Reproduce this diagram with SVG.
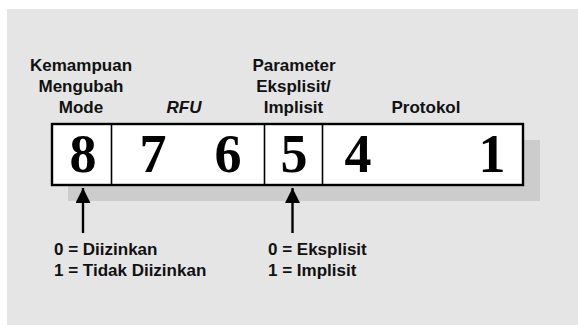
<svg xmlns="http://www.w3.org/2000/svg" width="578" height="325" viewBox="0 0 578 325">
  <style>
    .lbl { font-family: "Liberation Sans", Arial, sans-serif; font-weight: bold; font-size: 17px; fill: #111; }
    .mid { text-anchor: middle; }
    .dig { font-family: "Liberation Serif", "Times New Roman", serif; font-weight: bold; font-size: 54px; fill: #000; text-anchor: middle; }
    .cell { fill: none; stroke: #000; stroke-width: 1.6; }
    .arrow { stroke: #000; stroke-width: 2.4; fill: none; }
  </style>
  <defs>
    <marker id="head" viewBox="0 0 10 10" refX="10" refY="5" markerUnits="userSpaceOnUse" markerWidth="16" markerHeight="15" orient="auto">
      <path d="M0,0 L10,5 L0,10 Z" fill="#000"/>
    </marker>
  </defs>

  <!-- page -->
  <rect x="0" y="0" width="578" height="325" fill="#ffffff"/>
  <rect x="7" y="9" width="571" height="316" fill="#e5e5e5"/>

  <!-- byte register -->
  <g id="register">
    <rect x="68" y="140" width="472" height="61" fill="#cccccc"/>
    <rect x="52" y="124" width="471" height="61" fill="#ffffff" stroke="#000" stroke-width="2.4"/>
  </g>

  <g id="bit8">
    <line class="cell" x1="111.5" y1="124" x2="111.5" y2="185"/>
    <text class="dig" x="83" y="172">8</text>
    <text class="lbl mid" x="81" y="70.5">Kemampuan</text>
    <text class="lbl mid" x="81" y="91.5">Mengubah</text>
    <text class="lbl mid" x="81" y="112.5">Mode</text>
  </g>

  <g id="bits7-6">
    <line class="cell" x1="264.5" y1="124" x2="264.5" y2="185"/>
    <text class="dig" x="153" y="172">7</text>
    <text class="dig" x="228" y="172">6</text>
    <text class="lbl mid" x="184" y="112.5" font-style="italic">RFU</text>
  </g>

  <g id="bit5">
    <line class="cell" x1="322.5" y1="124" x2="322.5" y2="185"/>
    <text class="dig" x="294" y="172">5</text>
    <text class="lbl mid" x="294" y="70.5">Parameter</text>
    <text class="lbl mid" x="293.5" y="91.5">Eksplisit/</text>
    <text class="lbl mid" x="293.5" y="112.5">Implisit</text>
  </g>

  <g id="bits4-1">
    <text class="dig" x="358" y="172">4</text>
    <text class="dig" x="492" y="172">1</text>
    <text class="lbl mid" x="426" y="112.5">Protokol</text>
  </g>

  <!-- legends -->
  <g id="legend-mode">
    <text class="lbl" x="54" y="255">0 = Diizinkan</text>
    <text class="lbl" x="54" y="276">1 = Tidak Diizinkan</text>
  </g>
  <g id="legend-param">
    <text class="lbl" x="268" y="255">0 = Eksplisit</text>
    <text class="lbl" x="268" y="276">1 = Implisit</text>
  </g>

  <!-- pointers -->
  <g id="connectors">
    <line class="arrow" x1="83" y1="233" x2="83" y2="188" marker-end="url(#head)"/>
    <line class="arrow" x1="292.5" y1="233" x2="292.5" y2="188" marker-end="url(#head)"/>
  </g>
</svg>
